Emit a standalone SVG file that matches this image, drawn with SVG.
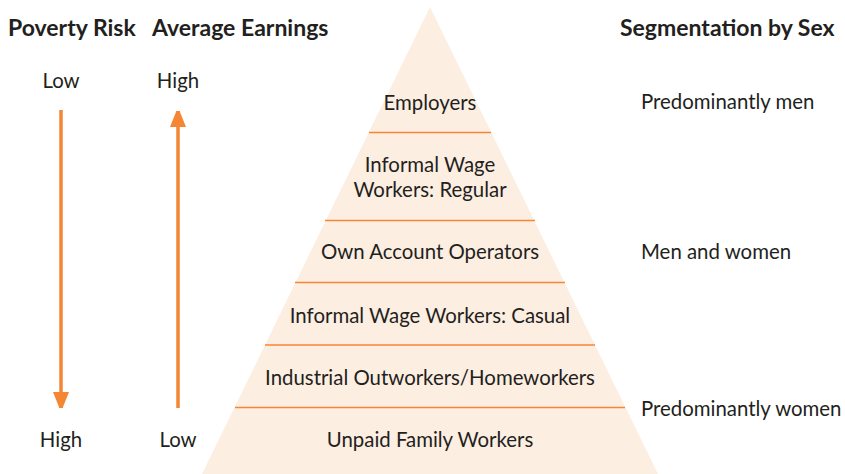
<svg xmlns="http://www.w3.org/2000/svg" width="845" height="474" viewBox="0 0 845 474">
  <defs>
    <style>
      text { font-family: "Lato", "Open Sans", sans-serif; fill: #231f20; }
      .head { font-size: 23px; font-weight: bold; }
      .lbl { font-size: 20.4px; }
      .mid { text-anchor: middle; }
      .tier { stroke: #f58634; stroke-width: 1.5; fill: none; }
      .axis { stroke: #f58634; stroke-width: 3.5; fill: none; }
    </style>
    <marker id="arrowhead" viewBox="0 0 16 20" refX="16" refY="8" markerWidth="16" markerHeight="20" markerUnits="userSpaceOnUse" orient="auto">
      <path d="M0,0 L20,8 L0,16 Z" fill="#f58634"/>
    </marker>
  </defs>

  <rect width="845" height="474" fill="#ffffff"/>

  <!-- column headings -->
  <text class="head" x="8" y="36">Poverty Risk</text>
  <text class="head" x="152" y="36">Average Earnings</text>
  <text class="head" x="620" y="36">Segmentation by Sex</text>

  <!-- pyramid body -->
  <g id="pyramid">
    <polygon points="430,7 658,474 202,474" fill="#fdeee2"/>
  </g>

  <!-- tier dividers and axis arrows -->
  <g id="connectors">
    <line class="tier" x1="369" y1="132.5" x2="491" y2="132.5"/>
    <line class="tier" x1="325" y1="220.5" x2="535" y2="220.5"/>
    <line class="tier" x1="295" y1="282.5" x2="565" y2="282.5"/>
    <line class="tier" x1="265" y1="345" x2="595" y2="345"/>
    <line class="tier" x1="235" y1="407.5" x2="625" y2="407.5"/>
    <line class="axis" x1="61" y1="110" x2="61" y2="408" marker-end="url(#arrowhead)"/>
    <line class="axis" x1="178" y1="408" x2="178" y2="111" marker-end="url(#arrowhead)"/>
  </g>

  <!-- axis labels -->
  <g id="poverty-risk">
    <text class="lbl mid" x="61" y="88">Low</text>
    <text class="lbl mid" x="61" y="447">High</text>
  </g>
  <g id="average-earnings">
    <text class="lbl mid" x="178" y="88">High</text>
    <text class="lbl mid" x="178" y="447">Low</text>
  </g>

  <!-- pyramid tiers -->
  <g id="employers"><text class="lbl mid" x="430" y="110">Employers</text></g>
  <g id="wage-regular">
    <text class="lbl mid" x="430" y="172">Informal Wage</text>
    <text class="lbl mid" x="430" y="197">Workers: Regular</text>
  </g>
  <g id="own-account"><text class="lbl mid" x="430" y="259">Own Account Operators</text></g>
  <g id="wage-casual"><text class="lbl mid" x="430" y="323">Informal Wage Workers: Casual</text></g>
  <g id="outworkers"><text class="lbl mid" x="430" y="385">Industrial Outworkers/Homeworkers</text></g>
  <g id="unpaid-family"><text class="lbl mid" x="430" y="447">Unpaid Family Workers</text></g>

  <!-- segmentation by sex -->
  <g id="segmentation">
    <text class="lbl" x="641" y="109">Predominantly men</text>
    <text class="lbl" x="641" y="259">Men and women</text>
    <text class="lbl" x="641" y="416">Predominantly women</text>
  </g>
</svg>
